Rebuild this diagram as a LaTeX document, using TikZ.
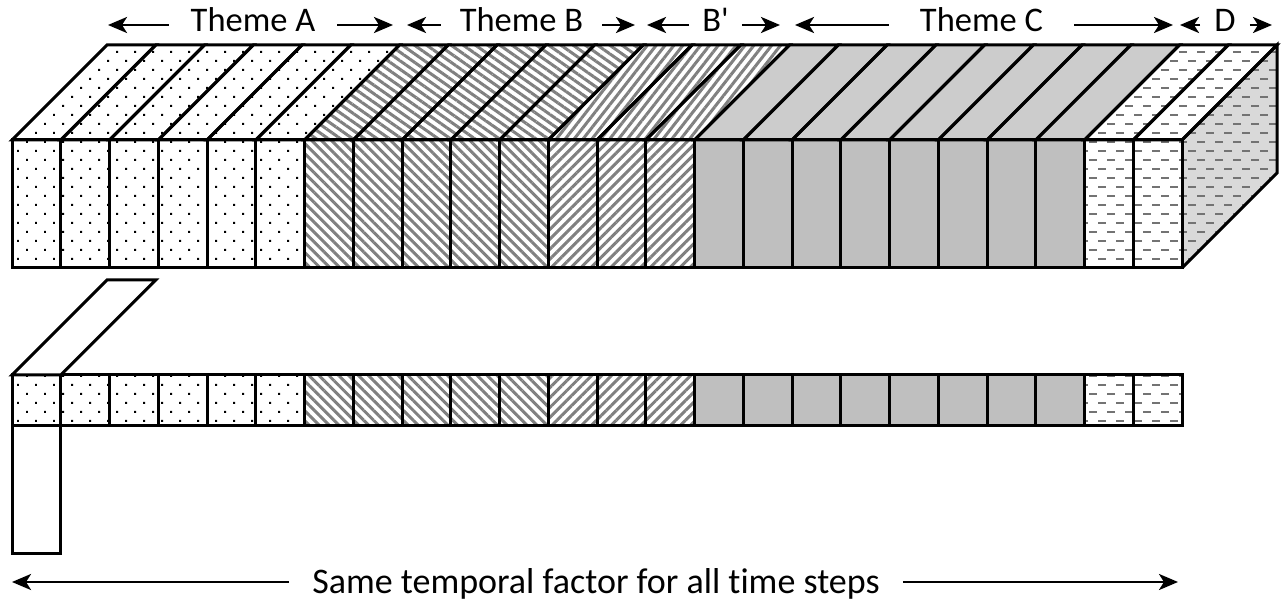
\documentclass[tikz,border=0pt]{standalone}
\usepackage{fontspec}
\newfontfamily\labelfont{Carlito}[Ligatures=NoCommon]
\usetikzlibrary{patterns,patterns.meta,arrows.meta}

% staggered rows of short horizontal dashes
\pgfdeclarepatternformonly{dashrows}{\pgfqpoint{-1pt}{-2pt}}{\pgfqpoint{19pt}{20pt}}{\pgfqpoint{18pt}{18pt}}{%
  \pgfsetlinewidth{1.8pt}%
  \pgfpathmoveto{\pgfqpoint{0pt}{0pt}}\pgfpathlineto{\pgfqpoint{8pt}{0pt}}%
  \pgfpathmoveto{\pgfqpoint{9pt}{9pt}}\pgfpathlineto{\pgfqpoint{17pt}{9pt}}%
  \pgfusepath{stroke}}

\definecolor{hatch}{gray}{0.5}
\definecolor{dashc}{gray}{0.45}
\definecolor{cfront}{gray}{0.75}
\definecolor{ctop}{gray}{0.8}
\definecolor{cside}{gray}{0.85}

\tikzset{
  edge/.style={draw=black, line width=3pt},
  pA/.style={pattern={Dots[distance=12.73pt,angle=45,radius=1.4pt]}, pattern color=black},
  pB/.style={pattern={Lines[angle=-45,distance=7pt,line width=3pt]}, pattern color=hatch},
  pBtop/.style={pattern={Lines[angle=-35,distance=7pt,line width=3pt]}, pattern color=hatch},
  pBp/.style={pattern={Lines[angle=45,distance=7pt,line width=3pt]}, pattern color=hatch},
  pBptop/.style={pattern={Lines[angle=52,distance=7pt,line width=3pt]}, pattern color=hatch},
  pC/.style={fill=cfront},
  pCtop/.style={fill=ctop},
  pD/.style={pattern=dashrows, pattern color=dashc},
  pSide/.style={preaction={fill=cside}, pattern=dashrows, pattern color=dashc},
  lbl/.style={font=\labelfont\fontsize{34.5}{40}\selectfont, inner ysep=0pt, anchor=base},
  biglbl/.style={font=\labelfont\fontsize{36}{42}\selectfont, inner ysep=0pt, anchor=base},
  dimarrow/.style={line width=2.8pt, -{Stealth[length=19pt,width=16pt,inset=5pt]}},
}

\newcommand\cw{48.75}

\begin{document}
\begin{tikzpicture}[x=1pt,y=-1pt]
\useasboundingbox (0,0) rectangle (1285,601);

% ---------- block of all time steps: fills ----------
\foreach \i in {0,...,5} {
  \path[pA] ({12+\i*\cw},140) rectangle ++(\cw,128);
  \path[pA] ({12+\i*\cw},140) -- ++(\cw,0) -- ++(95,-95) -- ++(-\cw,0) -- cycle;
  \path[pA] ({12+\i*\cw},375) rectangle ++(\cw,50);
}
\foreach \i in {6,...,10} {
  \path[pB] ({12+\i*\cw},140) rectangle ++(\cw,128);
  \path[pBtop] ({12+\i*\cw},140) -- ++(\cw,0) -- ++(95,-95) -- ++(-\cw,0) -- cycle;
  \path[pB] ({12+\i*\cw},375) rectangle ++(\cw,50);
}
\foreach \i in {11,...,13} {
  \path[pBp] ({12+\i*\cw},140) rectangle ++(\cw,128);
  \path[pBptop] ({12+\i*\cw},140) -- ++(\cw,0) -- ++(95,-95) -- ++(-\cw,0) -- cycle;
  \path[pBp] ({12+\i*\cw},375) rectangle ++(\cw,50);
}
\foreach \i in {14,...,21} {
  \path[pC] ({12+\i*\cw},140) rectangle ++(\cw,128);
  \path[pCtop] ({12+\i*\cw},140) -- ++(\cw,0) -- ++(95,-95) -- ++(-\cw,0) -- cycle;
  \path[pC] ({12+\i*\cw},375) rectangle ++(\cw,50);
}
\foreach \i in {22,23} {
  \path[pD] ({12+\i*\cw},140) rectangle ++(\cw,128);
  \path[pD] ({12+\i*\cw},140) -- ++(\cw,0) -- ++(95,-95) -- ++(-\cw,0) -- cycle;
  \path[pD] ({12+\i*\cw},375) rectangle ++(\cw,50);
}
% right-hand face
\path[pSide] (1182,140) -- (1277,45) -- (1277,173) -- (1182,268) -- cycle;

% ---------- outlines ----------
\foreach \i in {0,...,23} {
  \draw[edge] ({12+\i*\cw},140) rectangle ++(\cw,128);
  \draw[edge] ({12+\i*\cw},140) -- ++(\cw,0) -- ++(95,-95) -- ++(-\cw,0) -- cycle;
  \draw[edge] ({12+\i*\cw},375) rectangle ++(\cw,50);
}
\draw[edge] (1182,140) -- (1277,45) -- (1277,173) -- (1182,268);

% single time step slice: depth above, height below
\draw[edge, fill=white] (12,375) -- (60.75,375) -- (155.75,280) -- (107,280) -- cycle;
\draw[edge, fill=white] (12,425) rectangle (60.75,553);

% ---------- theme labels ----------
\node[lbl, inner xsep=22pt] (lblA) at (253,32) {Theme A};
\coordinate (tipAl) at (108,25);  \coordinate (tipAr) at (393,25);
\draw[dimarrow] (lblA.west |- tipAl) -- (tipAl);
\draw[dimarrow] (lblA.east |- tipAr) -- (tipAr);

\node[lbl, inner xsep=19pt] (lblB) at (521.5,32) {Theme B};
\coordinate (tipBl) at (407,25);  \coordinate (tipBr) at (635,25);
\draw[dimarrow] (lblB.west |- tipBl) -- (tipBl);
\draw[dimarrow] (lblB.east |- tipBr) -- (tipBr);

\node[lbl, inner xsep=13pt] (lblBp) at (715.5,32) {B'};
\coordinate (tipBpl) at (647,25); \coordinate (tipBpr) at (780,25);
\draw[dimarrow] (lblBp.west |- tipBpl) -- (tipBpl);
\draw[dimarrow] (lblBp.east |- tipBpr) -- (tipBpr);

\node[lbl, inner xsep=31pt] (lblC) at (981.5,32) {Theme C};
\coordinate (tipCl) at (795,25);  \coordinate (tipCr) at (1173,25);
\draw[dimarrow] (lblC.west |- tipCl) -- (tipCl);
\draw[dimarrow] (lblC.east |- tipCr) -- (tipCr);

\node[lbl, inner xsep=14pt] (lblD) at (1225,32) {D};
\coordinate (tipDl) at (1180,25); \coordinate (tipDr) at (1272,25);
\draw[dimarrow] (lblD.west |- tipDl) -- (tipDl);
\draw[dimarrow] (lblD.east |- tipDr) -- (tipDr);

% ---------- shared temporal factor ----------
\node[biglbl, inner xsep=23pt] (lblT) at (596,593) {Same temporal factor for all time steps};
\coordinate (tipTl) at (12,582); \coordinate (tipTr) at (1178,582);
\draw[dimarrow] (lblT.west |- tipTl) -- (tipTl);
\draw[dimarrow] (lblT.east |- tipTr) -- (tipTr);
\end{tikzpicture}
\end{document}
